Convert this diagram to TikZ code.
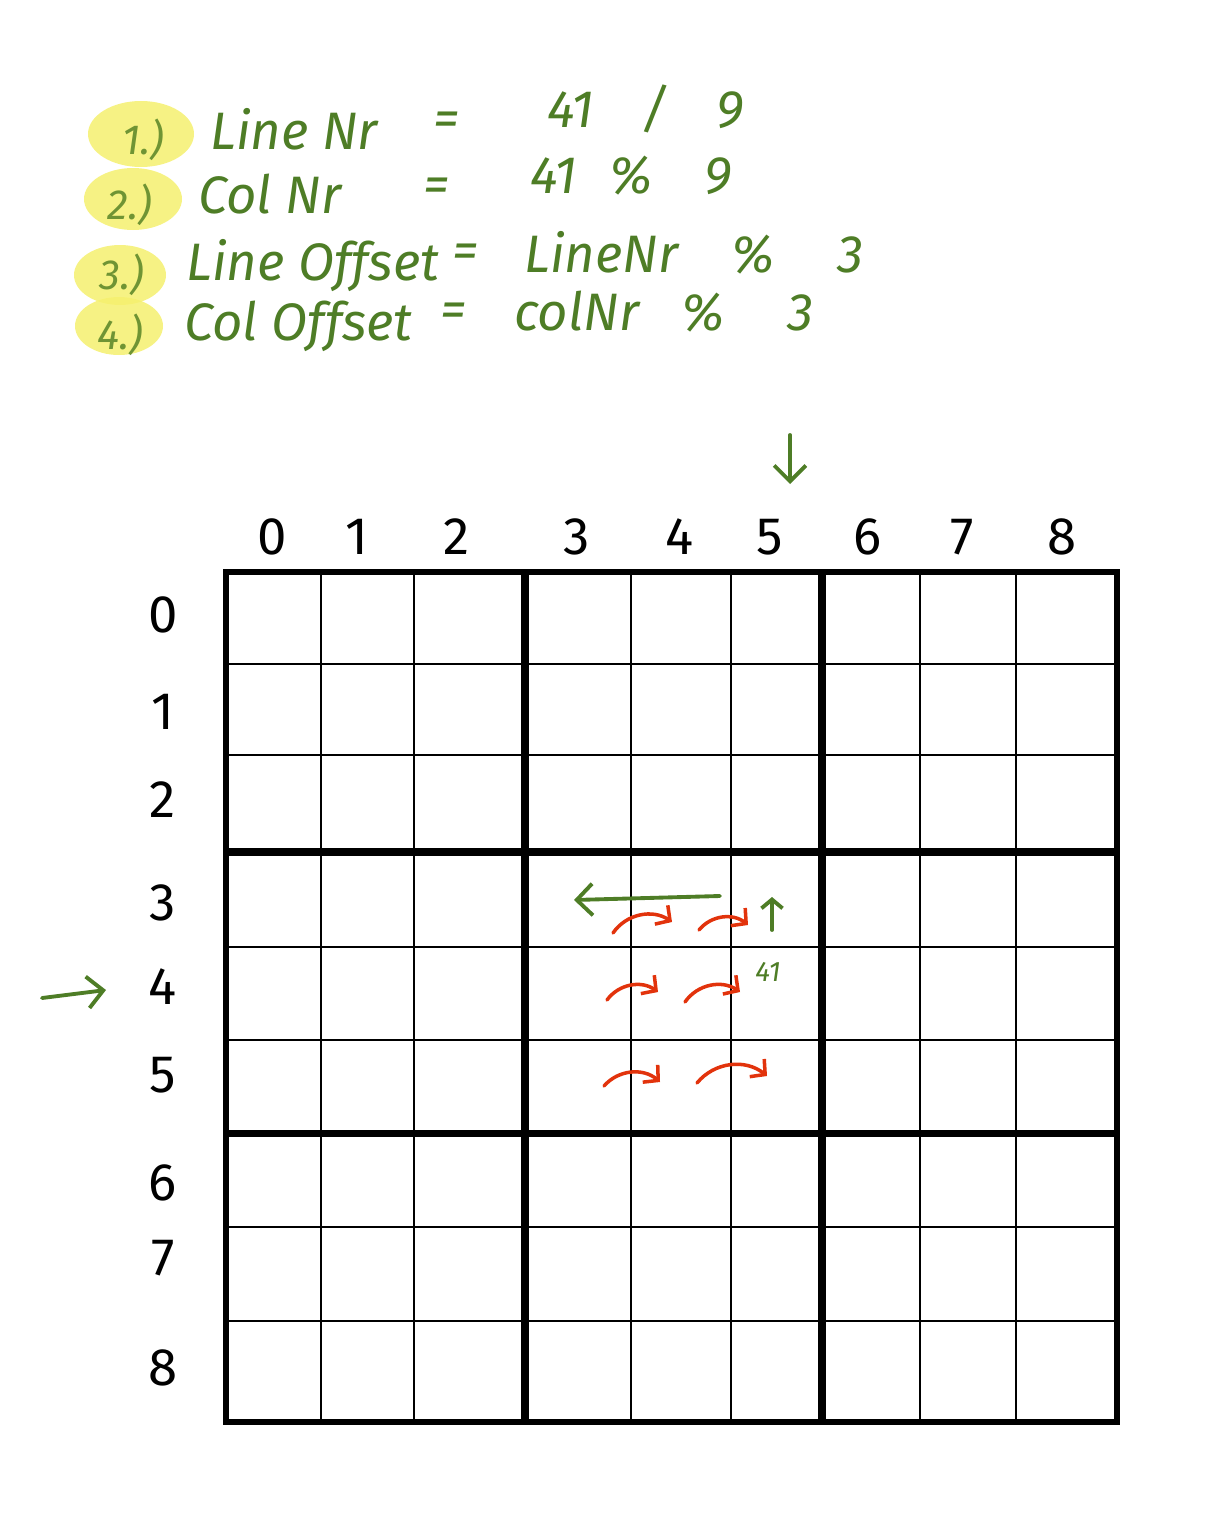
\documentclass[tikz,border=0pt]{standalone}
\usepackage{fontspec}
\setmainfont{Fira Sans}
\usetikzlibrary{arrows.meta}
\definecolor{pen}{HTML}{4E7D26}
\definecolor{redpen}{HTML}{E2330C}
\definecolor{marker}{HTML}{F5F06E}

\begin{document}
\begin{tikzpicture}[x=0.02cm,y=-0.02cm,
  formula/.style={font=\fontsize{30}{36}\selectfont\itshape, text=pen, inner sep=1pt},
  stepnr/.style={font=\fontsize{24}{28}\selectfont\itshape, text=pen!80!marker, inner sep=1pt},
  digit/.style={font=\fontsize{30}{36}\selectfont, inner sep=1pt},
  hilite/.style={fill=marker, opacity=0.85},
  thingrid/.style={line width=0.8pt},
  thickgrid/.style={line width=4pt},
  greenarrow/.style={pen, line width=2.2pt, line cap=round, -{Straight Barb[length=9pt,width=18pt]}},
  redarc/.style={redpen, line width=2pt, line cap=round, -{Straight Barb[length=6pt,width=13pt]}}]
  \useasboundingbox (0,0) rectangle (1205,1514);

  % ======= formulas (top) =======
  \fill[hilite] (141,134) ellipse (53 and 33);
  \fill[hilite] (133,199) ellipse (49 and 31);
  \fill[hilite] (120,275) ellipse (46 and 30);
  \fill[hilite] (119,326) ellipse (44 and 29);

  \node[stepnr] (s1) at (143,140) {1.)};
  \node[stepnr] (s2) at (130,205) {2.)};
  \node[stepnr] (s3) at (122,275) {3.)};
  \node[stepnr] (s4) at (120,335) {4.)};

  \node[formula, anchor=base west] (lhs1) at (208,150) {Line Nr};
  \node[formula, anchor=base west] (lhs2) at (196,213) {Col Nr};
  \node[formula, anchor=base west] (lhs3) at (184,280) {Line Offset};
  \node[formula, anchor=base west] (lhs4) at (182,340) {Col Offset};

  \node[formula] (eq1) at (447,124) {=};
  \node[formula] (eq2) at (437,190) {=};
  \node[formula] (eq3) at (466,256) {=};
  \node[formula] (eq4) at (454,315) {=};

  \node[formula, anchor=base west] (rhs1) at (545,128) {41\hspace{0.9em}/\hspace{0.9em}9};
  \node[formula, anchor=base west] (rhs2) at (528,193) {41\hspace{0.6em}\%\hspace{1em}9};
  \node[formula, anchor=base west] (rhs3) at (522,272) {LineNr\hspace{1em}\%\hspace{1.2em}3};
  \node[formula, anchor=base west] (rhs4) at (512,330) {colNr\hspace{0.8em}\%\hspace{1.2em}3};

  % ======= sudoku grid =======
  \foreach \x in {321,414,631,731,920,1016} {
    \draw[thingrid] (\x,572) -- (\x,1422);
  }
  \foreach \y in {664,755,947,1040,1227,1321} {
    \draw[thingrid] (226,\y) -- (1117,\y);
  }
  \foreach \x in {525,822} {
    \draw[thickgrid] (\x,572) -- (\x,1422);
  }
  \foreach \y in {852,1133} {
    \draw[thickgrid] (226,\y) -- (1117,\y);
  }
  \draw[line width=3pt] (226,572) rectangle (1117,1422);

  % column and line numbers
  \foreach \n/\x in {0/272,1/357,2/457,3/577,4/680,5/770,6/868,7/962,8/1062} {
    \node[digit] (c\n) at (\x,537) {\n};
  }
  \foreach \n/\y in {0/615,1/712,2/800,3/903,4/987,5/1075,6/1183,7/1258,8/1368} {
    \node[digit] (r\n) at (163,\y) {\n};
  }

  % ======= pointers to cell 41 =======
  \coordinate (colA) at (790,435);
  \coordinate (colB) at (790,484);
  \draw[greenarrow] (colA) -- (colB);
  \coordinate (rowA) at (42,998);
  \coordinate (rowB) at (106,990);
  \draw[greenarrow] (rowA) -- (rowB);

  \coordinate (backA) at (720,896);
  \coordinate (backB) at (574,900);
  \draw[greenarrow] (backA) -- (backB);
  \coordinate (upA) at (772,930);
  \coordinate (upB) at (772,897);
  \draw[greenarrow, -{Straight Barb[length=5pt,width=12pt]}] (upA) -- (upB);
  \node[font=\fontsize{16}{18}\selectfont\itshape, text=pen] (cell41) at (768,972) {41};

  % red hops through the box
  \foreach \i/\ax/\ay/\bx/\by in {1/613/933/672/922, 2/699/930/748/925,
      3/607/1000/658/992, 4/685/1002/740/992,
      5/604/1086/660/1082, 6/697/1083/767/1076} {
    \coordinate (hop\i a) at (\ax,\ay);
    \coordinate (hop\i b) at (\bx,\by);
    \draw[redarc] (hop\i a) to[bend left=45] (hop\i b);
  }
\end{tikzpicture}
\end{document}
